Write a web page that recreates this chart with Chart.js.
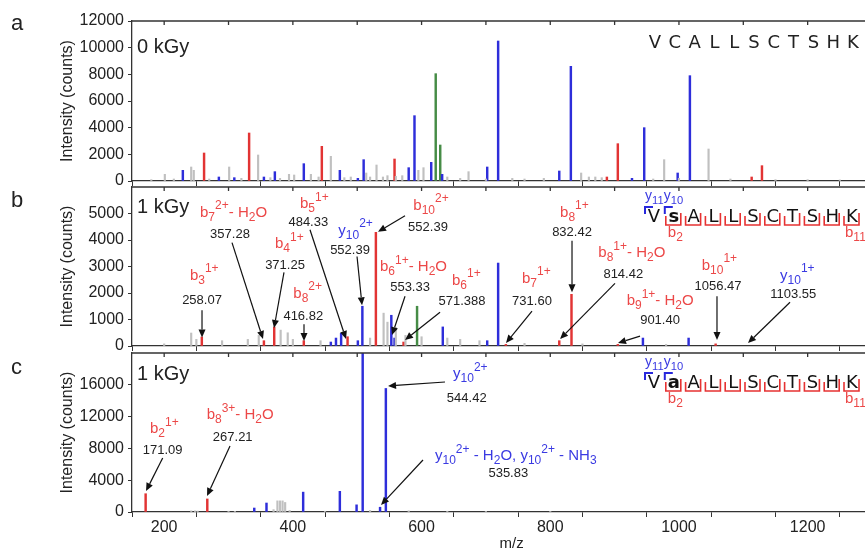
<!DOCTYPE html>
<html>
<head>
<meta charset="utf-8">
<script src="https://cdn.jsdelivr.net/npm/chart.js@4.4.1/dist/chart.umd.min.js"></script>
<style>
  html, body { margin: 0; padding: 0; width: 865px; height: 549px; overflow: hidden; background: #fff; }
  canvas { position: absolute; left: 0; top: 0; }
</style>
</head>
<body>
<canvas id="panelA" width="880" height="549"></canvas>
<canvas id="panelB" width="880" height="549"></canvas>
<canvas id="panelC" width="880" height="549"></canvas>
<script>
// axis values
const xTickMarks = [200, 300, 400, 500, 600, 700, 800, 900, 1000, 1100, 1200, 1300];
const xTickLabels = [200, 400, 600, 800, 1000, 1200];
const yTicksA = [0, 2000, 4000, 6000, 8000, 10000, 12000];
const yTicksB = [0, 1000, 2000, 3000, 4000, 5000];
const yTicksC = [0, 4000, 8000, 12000, 16000];

// peaks: [m/z, counts]
const grayA = [[180,100],[201,500],[215,150],[242,1050],[246,800],[270,150],[301,1050],[320,200],[346,1950],[365,250],[380,200],
  [394,500],[402,450],[428,500],[440,300],[459,1850],[480,250],[490,300],[514,600],[520,300],[530,1200],[540,300],[547,400],
  [560,350],[570,400],[595,800],[603,1000],[640,300],[660,200],[673,700],[700,150],[741,200],[760,150],[790,200],[848,600],
  [860,300],[870,300],[880,250],[960,150],[977,1600],[1000,200],[1046,2400],[1080,150],[1150,100],[1200,100],[1250,80]];
const redA = [[262,2100],[332,3600],[445,2600],[558,1650],[888,300],[905,2800],[1113,300],[1129,1150]];
const blueA = [[229,800],[285,300],[309,250],[355,300],[372,700],[417,1300],[473,800],[501,200],[510,1600],[580,1000],
  [589,4900],[615,1400],[632,500],[702,1050],[719,10500],[814,750],[832,8600],[927,200],[946,4000],[998,600],[1017,7900]];
const greenA = [[622,8050],[629,2700]];

const grayB = [[200,80],[242,490],[250,250],[290,200],[330,250],[347,400],[381,600],[392,500],[400,250],[443,200],[520,300],
  [541,1240],[547,900],[560,700],[575,400],[600,350],[640,300],[660,250],[690,200],[760,100],[850,80],[980,60]];
const redB = [[258.5,340],[355,200],[371,720],[417,200],[485,350],[529,4290],[572,150],[731,60],[814,200],[833,1950],[905,60],[1057,80]];
const blueB = [[459,150],[467,300],[475,480],[501,200],[508,1500],[553,1160],[558,300],[633,720],[702,200],[719,3130],[944,300],[1015,300]];
const greenB = [[593,1500]];

const grayC = [[242,150],[248,150],[252,120],[300,100],[310,80],[370,300],[376,1400],[380,1400],[384,1400],[388,1200],
  [395,200],[450,100],[520,200],[580,150],[640,100],[700,80],[800,50]];
const redC = [[171.2,2300],[267,1640]];
const blueC = [[340,500],[359,1130],[416,2500],[473,2600],[499,900],[508.5,20000],[535.5,600],[544.5,15540]];

const seqA = ['V','C','A','L','L','S','C','T','S','H','K'];
const seqB = ['V','s','A','L','L','S','C','T','S','H','K'];
const seqC = ['V','a','A','L','L','S','C','T','S','H','K'];

// fragment annotations (label, value text, arrow in data units)
const labelsB = [
  {ion:'b_{3}^{1+}', c:'r', at:[240,2662], num:'258.07', numAt:[258.8,1725], from:[258.8,1350], to:[258.8,320]},
  {ion:'b_{7}^{2+}- H_{2}O', c:'r', at:[255.7,5036], num:'357.28', numAt:[302.3,4225], from:[305.4,3900], to:[353.6,262]},
  {ion:'b_{4}^{1+}', c:'r', at:[372.2,3850], num:'371.25', numAt:[387.8,3037], from:[386.2,2775], to:[370.7,675]},
  {ion:'b_{8}^{2+}', c:'r', at:[400.7,1975], num:'416.82', numAt:[416.2,1125], from:[417.3,825], to:[417.3,187]},
  {ion:'b_{5}^{1+}', c:'r', at:[411.1,5350], num:'484.33', numAt:[424,4662], from:[426.6,4387], to:[482.6,262]},
  {ion:'y_{10}^{2+}', c:'b', at:[470.6,4350], num:'552.39', numAt:[488.8,3625], from:[499.7,3375], to:[507.5,1537]},
  {ion:'b_{10}^{2+}', c:'r', at:[587.2,5287], num:'552.39', numAt:[610,4475], from:[574.3,4912], to:[532.3,4312]},
  {ion:'b_{6}^{1+}- H_{2}O', c:'r', at:[535.4,2975], num:'553.33', numAt:[582.1,2225], from:[574.3,1875], to:[554.1,412]},
  {ion:'b_{6}^{1+}', c:'r', at:[647.3,2475], num:'571.388', numAt:[662.9,1687], from:[628.7,1275], to:[574.3,225]},
  {ion:'b_{7}^{1+}', c:'r', at:[756.1,2537], num:'731.60', numAt:[771.6,1687], from:[771.6,1312], to:[731.2,112]},
  {ion:'b_{8}^{1+}', c:'r', at:[815.2,5036], num:'832.42', numAt:[833.8,4287], from:[833.8,3975], to:[833.8,2025]},
  {ion:'b_{8}^{1+}- H_{2}O', c:'r', at:[874.7,3500], num:'814.42', numAt:[913.5,2700], from:[900.6,2362], to:[815.2,262]},
  {ion:'b_{9}^{1+}- H_{2}O', c:'r', at:[918.7,1700], num:'901.40', numAt:[970.6,950], from:[939.5,375], to:[905.3,112]},
  {ion:'b_{10}^{1+}', c:'r', at:[1035.4,3037], num:'1056.47', numAt:[1060.6,2250], from:[1059.1,1875], to:[1059.1,225]},
  {ion:'y_{10}^{1+}', c:'b', at:[1157.1,2662], num:'1103.55', numAt:[1177.7,1950], from:[1172.6,1650], to:[1107.3,112]}
];
const labelsC = [
  {ion:'b_{2}^{1+}', c:'r', at:[178,10400], num:'171.09', numAt:[197.7,7800], from:[197.7,6793], to:[171.8,2642]},
  {ion:'b_{8}^{3+}- H_{2}O', c:'r', at:[266,12203], num:'267.21', numAt:[306.5,9400], from:[302.3,8303], to:[266.6,2013]},
  {ion:'y_{10}^{2+}', c:'b', at:[648.9,17360], num:'544.42', numAt:[670.2,14300], from:[636.4,16354], to:[547.9,15850]},
  {ion:'y_{10}^{2+} - H_{2}O, y_{10}^{2+} - NH_{3}', c:'b', at:[620.9,7045], num:'535.83', numAt:[734.8,4868], from:[602.2,6542], to:[537,880]}
];

const FONT = '"Liberation Sans", Arial, sans-serif';
const SEQFONT = '"DejaVu Sans", Verdana, sans-serif';
const colors = { gray: 'rgb(192,192,192)', red: 'rgb(226,52,52)', blue: 'rgb(46,46,218)', green: 'rgb(70,140,70)' };
const textColors = { r: 'rgb(236,72,72)', b: 'rgb(58,58,226)' };

function drawRich(ctx, str, x, y, size, color) {
  const parts = str.split(/(_\{[^}]*\}|\^\{[^}]*\})/).filter(Boolean);
  ctx.fillStyle = color;
  ctx.textAlign = 'left';
  ctx.textBaseline = 'middle';
  let cx = x;
  parts.forEach(p => {
    let t = p, fs = size, dy = 0;
    if (p.startsWith('_{')) { t = p.slice(2, -1); fs = size * 0.8; dy = size * 0.32; }
    else if (p.startsWith('^{')) { t = p.slice(2, -1); fs = size * 0.8; dy = -size * 0.45; }
    ctx.font = fs + 'px ' + FONT;
    ctx.fillText(t, cx, y + dy);
    cx += ctx.measureText(t).width;
  });
}

function drawArrow(ctx, x1, y1, x2, y2) {
  const ang = Math.atan2(y2 - y1, x2 - x1);
  const hl = 8, hw = 3.5;
  const bx = x2 - hl * Math.cos(ang), by = y2 - hl * Math.sin(ang);
  ctx.beginPath();
  ctx.moveTo(x1, y1);
  ctx.lineTo(bx, by);
  ctx.stroke();
  ctx.beginPath();
  ctx.moveTo(x2, y2);
  ctx.lineTo(bx - hw * Math.sin(ang), by + hw * Math.cos(ang));
  ctx.lineTo(bx + hw * Math.sin(ang), by - hw * Math.cos(ang));
  ctx.closePath();
  ctx.fill();
}

function drawSequence(ctx, a, seq, mod) {
  const x0 = 654, step = 19.8;
  const base = a.top + 35;
  ctx.textAlign = 'center';
  ctx.textBaseline = 'alphabetic';
  seq.forEach((s, i) => {
    ctx.font = (i === mod ? 'bold ' : '') + '18px ' + SEQFONT;
    ctx.fillStyle = '#111';
    ctx.fillText(s, x0 + i * step, base);
  });
  // b-ion brackets
  ctx.strokeStyle = 'rgb(230,50,50)';
  ctx.lineWidth = 1.6;
  for (let i = 1; i < seq.length; i++) {
    const cx = x0 + i * step;
    ctx.beginPath();
    ctx.moveTo(cx - 8, base - 6);
    ctx.lineTo(cx - 8, base + 3);
    ctx.lineTo(cx + 7, base + 3);
    ctx.lineTo(cx + 7, base - 9);
    ctx.stroke();
  }
  // y-ion brackets
  ctx.strokeStyle = 'rgb(40,40,220)';
  ctx.lineWidth = 2;
  [0, 1].forEach(i => {
    const lx = x0 + i * step - 9;
    ctx.beginPath();
    ctx.moveTo(lx, base - 8);
    ctx.lineTo(lx, base - 15);
    ctx.lineTo(lx + 8, base - 15);
    ctx.stroke();
  });
  drawRich(ctx, 'y_{11}', x0 - 9, a.top + 9, 14, textColors.b);
  drawRich(ctx, 'y_{10}', x0 + step - 10, a.top + 9, 14, textColors.b);
  drawRich(ctx, 'b_{2}', x0 + step - 6, a.top + 46, 15, textColors.r);
  drawRich(ctx, 'b_{11}', x0 + 10 * step - 7, a.top + 46, 15, textColors.r);
}

function panelPlugin(cfg) {
  return {
    id: 'panelText' + cfg.letter,
    afterDraw(chart) {
      const { ctx, chartArea: a, scales: { x, y } } = chart;
      ctx.save();
      // top frame line with inward ticks
      ctx.strokeStyle = '#333';
      ctx.lineWidth = 1.3;
      ctx.beginPath();
      ctx.moveTo(a.left, a.top);
      ctx.lineTo(a.right, a.top);
      xTickMarks.forEach(v => {
        const px = x.getPixelForValue(v);
        ctx.moveTo(px, a.top);
        ctx.lineTo(px, a.top + 4);
      });
      ctx.stroke();

      // panel letter
      ctx.fillStyle = '#222';
      ctx.font = '22px ' + FONT;
      ctx.textAlign = 'left';
      ctx.textBaseline = 'alphabetic';
      ctx.fillText(cfg.letter, 11, a.top + cfg.letterY);

      // y title
      ctx.save();
      ctx.translate(68, (a.top + a.bottom) / 2);
      ctx.rotate(-Math.PI / 2);
      ctx.font = '16px ' + FONT;
      ctx.textAlign = 'center';
      ctx.textBaseline = 'middle';
      ctx.fillText('Intensity (counts)', 0, 0);
      ctx.restore();

      // dose
      ctx.font = '20px ' + FONT;
      ctx.textAlign = 'left';
      ctx.textBaseline = 'alphabetic';
      ctx.fillStyle = '#222';
      ctx.fillText(cfg.dose, a.left + 5, a.top + cfg.doseY);

      if (cfg.xTitle) {
        ctx.font = '15px ' + FONT;
        ctx.textAlign = 'center';
        ctx.textBaseline = 'middle';
        ctx.fillText(cfg.xTitle, x.getPixelForValue(740), 544);
      }

      if (cfg.plainSeq) {
        ctx.font = '18px ' + SEQFONT;
        ctx.fillStyle = '#222';
        ctx.textAlign = 'center';
        cfg.plainSeq.forEach((s, i) => ctx.fillText(s, 655 + i * 19.8, a.top + 27));
      }
      if (cfg.seq) drawSequence(ctx, a, cfg.seq, cfg.mod);

      // annotations
      (cfg.labels || []).forEach(l => {
        drawRich(ctx, l.ion, x.getPixelForValue(l.at[0]), y.getPixelForValue(l.at[1]), 15, textColors[l.c]);
        ctx.fillStyle = '#222';
        ctx.font = '13px ' + FONT;
        ctx.textAlign = 'center';
        ctx.textBaseline = 'middle';
        ctx.fillText(l.num, x.getPixelForValue(l.numAt[0]), y.getPixelForValue(l.numAt[1]));
        ctx.strokeStyle = '#111';
        ctx.fillStyle = '#111';
        ctx.lineWidth = 1.2;
        drawArrow(ctx, x.getPixelForValue(l.from[0]), y.getPixelForValue(l.from[1]),
          x.getPixelForValue(l.to[0]), y.getPixelForValue(l.to[1]));
      });
      ctx.restore();
    }
  };
}

function makePanel(id, cfg) {
  const datasets = cfg.series.map(s => ({
    data: s.peaks.map(p => ({ x: p[0], y: p[1] })),
    backgroundColor: s.color,
    barThickness: s.w || 1.8,
    grouped: false
  }));
  return new Chart(document.getElementById(id), {
    type: 'bar',
    data: { datasets },
    options: {
      responsive: false,
      animation: false,
      events: [],
      layout: { padding: { left: 0, right: 8, top: cfg.top, bottom: cfg.padBottom } },
      plugins: { legend: { display: false }, tooltip: { enabled: false } },
      scales: {
        x: {
          type: 'linear', min: 150, max: 1300, offset: false,
          afterBuildTicks: s => { s.ticks = xTickMarks.map(v => ({ value: v })); },
          afterFit: s => { s.height = cfg.xh; },
          grid: { drawOnChartArea: false, drawTicks: true, tickLength: 5, color: '#333' },
          border: { color: '#333', width: 1.3 },
          ticks: {
            display: cfg.showX, autoSkip: false, maxRotation: 0, padding: 1, color: '#222',
            font: { size: 16, family: FONT },
            callback: v => xTickLabels.includes(v) ? String(v) : ''
          }
        },
        y: {
          min: 0, max: cfg.yMax,
          afterBuildTicks: s => { s.ticks = cfg.yTicks.map(v => ({ value: v })); },
          afterFit: s => { s.width = 132; },
          grid: { drawOnChartArea: false, drawTicks: true, tickLength: 4, color: '#333' },
          border: { color: '#333', width: 1.3 },
          ticks: { autoSkip: false, padding: 4, color: '#222', font: { size: 16, family: FONT },
            callback: v => String(v) }
        }
      }
    },
    plugins: [panelPlugin(cfg)]
  });
}

makePanel('panelA', {
  letter: 'a', letterY: 9, dose: '0 kGy', doseY: 32, top: 21, padBottom: 549 - 181, xh: 0, showX: false,
  yMax: 12000, yTicks: yTicksA, plainSeq: seqA,
  series: [
    { peaks: grayA, color: colors.gray, w: 1.5 },
    { peaks: redA, color: colors.red },
    { peaks: blueA, color: colors.blue },
    { peaks: greenA, color: colors.green }
  ]
});

makePanel('panelB', {
  letter: 'b', letterY: 20, dose: '1 kGy', doseY: 26, top: 187, padBottom: 549 - 346, xh: 0, showX: false,
  yMax: 6000, yTicks: yTicksB, seq: seqB, mod: 1, labels: labelsB,
  series: [
    { peaks: grayB, color: colors.gray, w: 1.5 },
    { peaks: redB, color: colors.red },
    { peaks: blueB, color: colors.blue },
    { peaks: greenB, color: colors.green }
  ]
});

makePanel('panelC', {
  letter: 'c', letterY: 21, dose: '1 kGy', doseY: 27, top: 353, padBottom: 0, xh: 37, showX: true,
  yMax: 20000, yTicks: yTicksC, seq: seqC, mod: 1, labels: labelsC, xTitle: 'm/z',
  series: [
    { peaks: grayC, color: colors.gray, w: 1.5 },
    { peaks: redC, color: colors.red },
    { peaks: blueC, color: colors.blue }
  ]
});
</script>
</body>
</html>
